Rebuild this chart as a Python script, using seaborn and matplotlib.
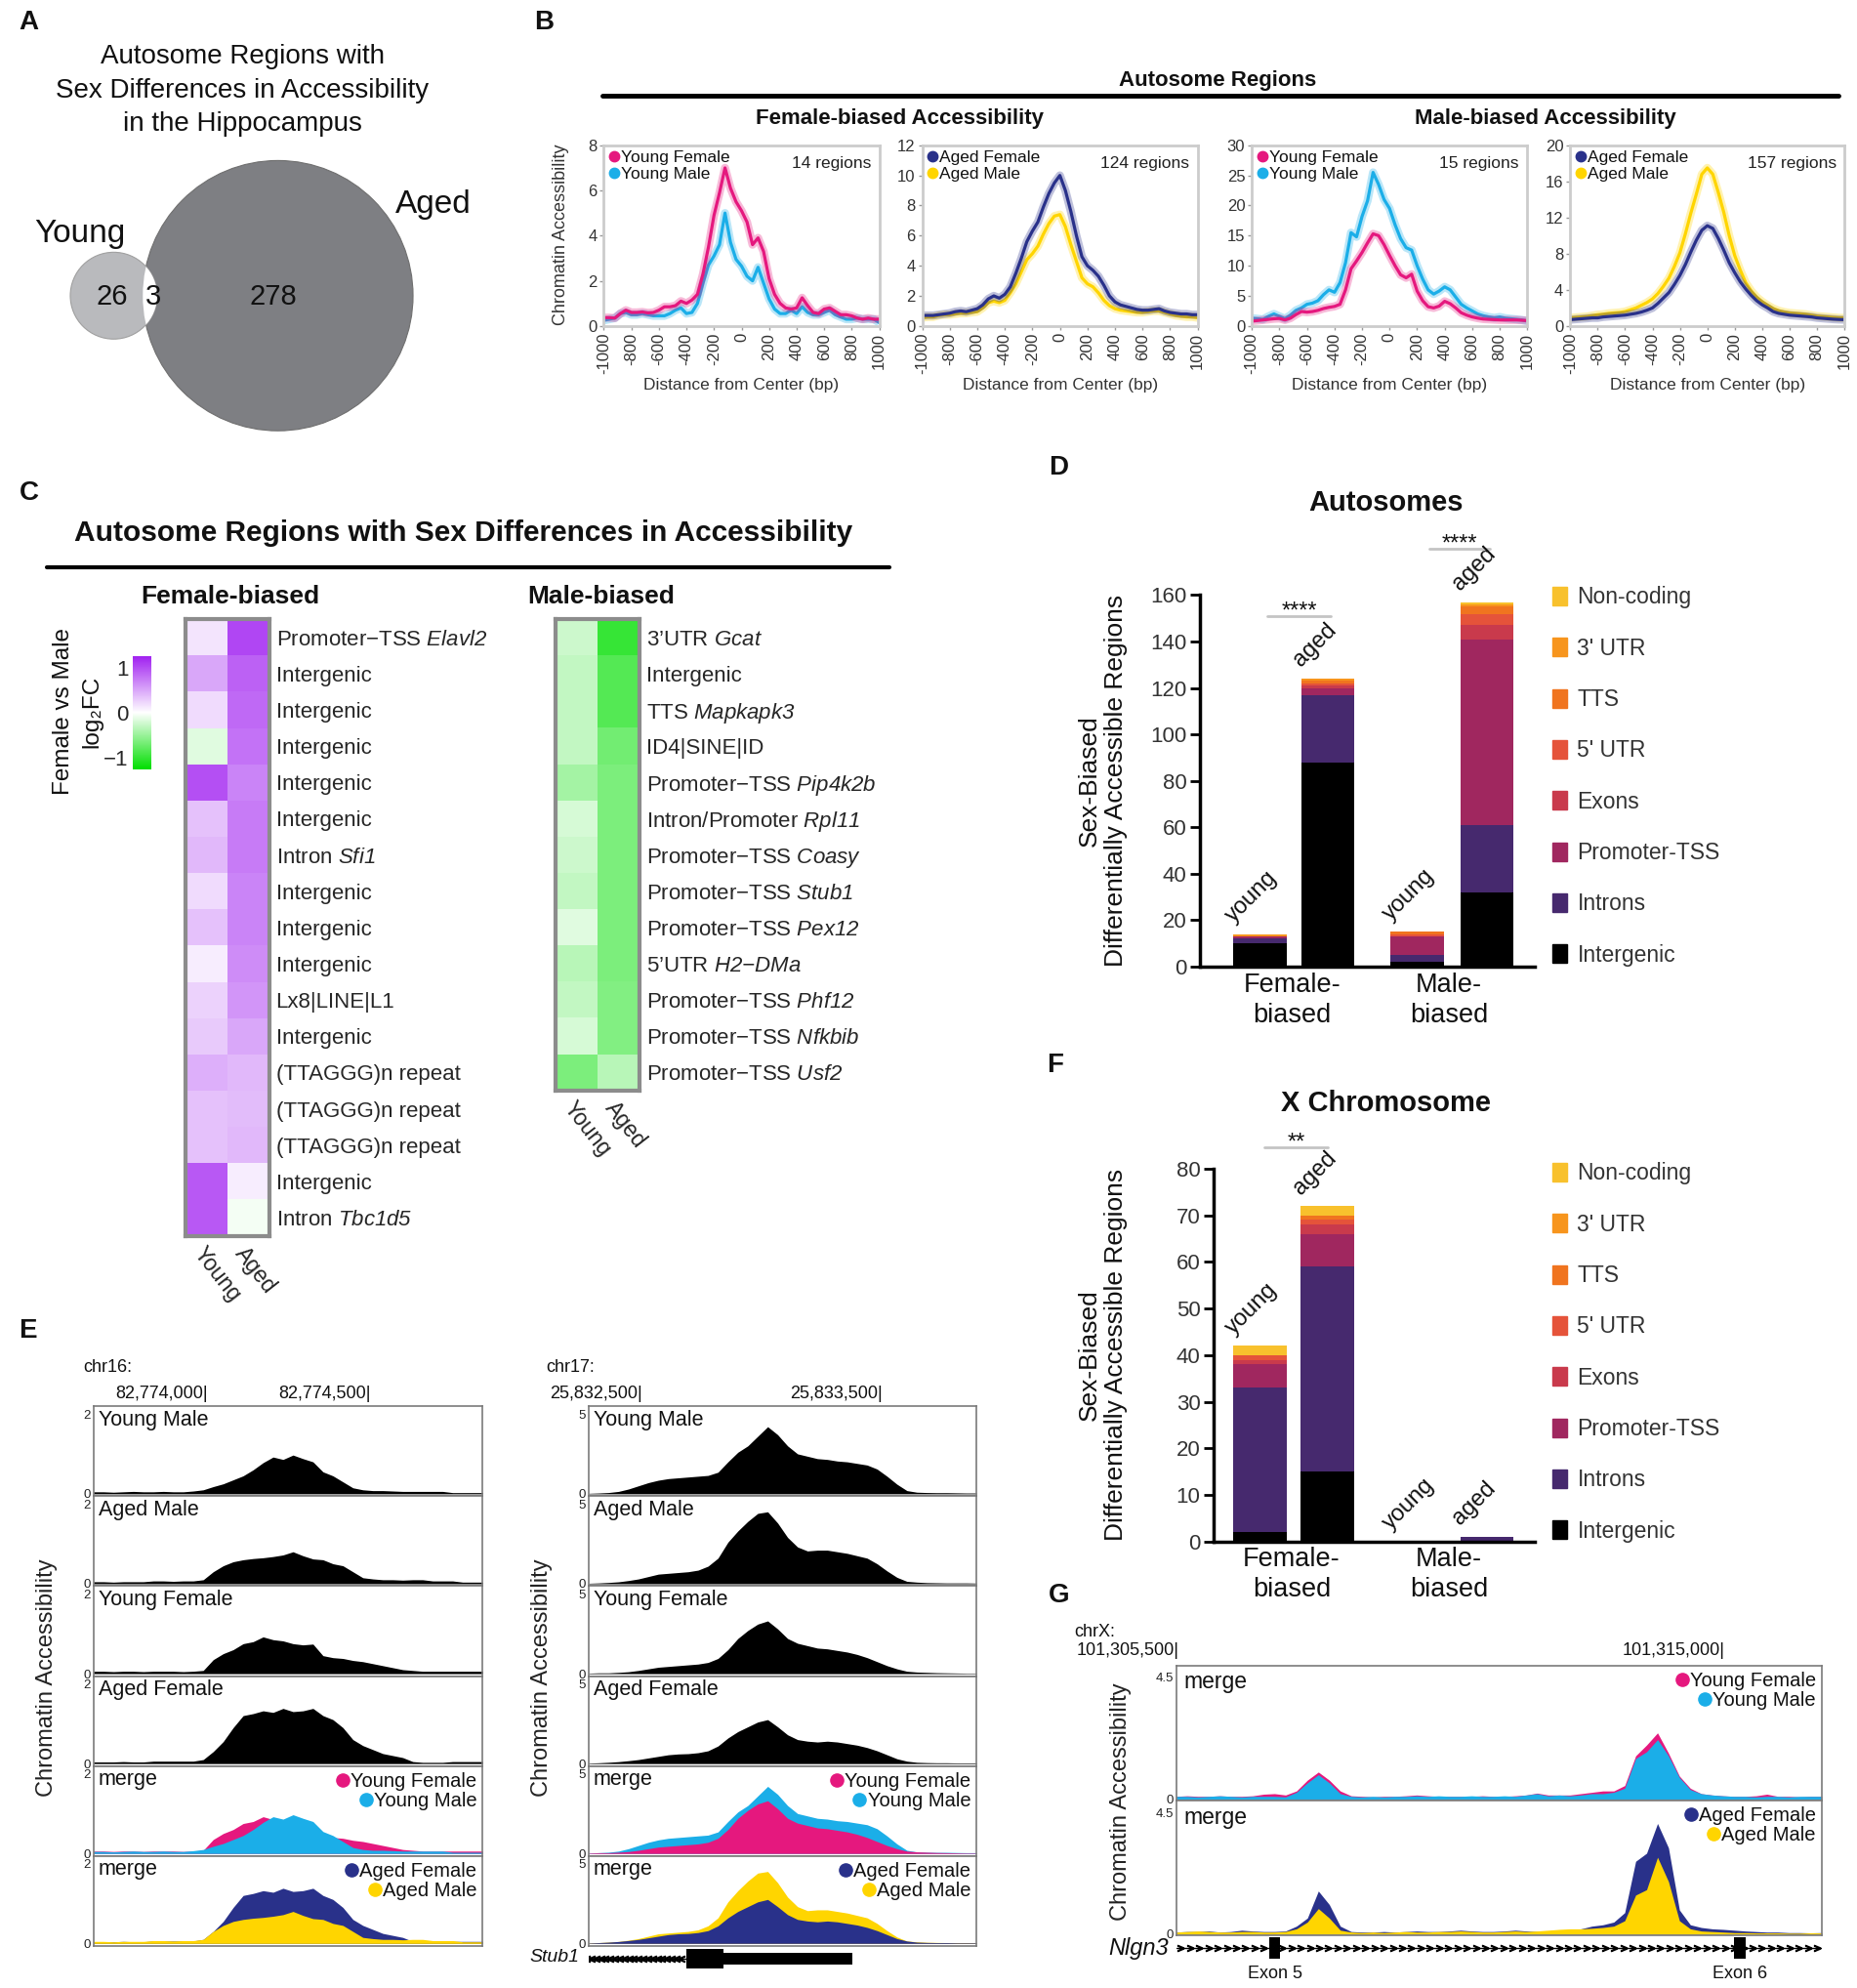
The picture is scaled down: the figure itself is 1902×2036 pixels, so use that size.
import numpy as np
import matplotlib
matplotlib.use("Agg")
import matplotlib.pyplot as plt
import matplotlib.transforms as mtransforms
from matplotlib.colors import LinearSegmentedColormap
from matplotlib.patches import Circle, Rectangle, Patch
from matplotlib.lines import Line2D
import seaborn as sns

sns.set_theme(style="white")
plt.rcParams["font.family"] = ["Liberation Sans", "DejaVu Sans"]
plt.rcParams["mathtext.fontset"] = "custom"
plt.rcParams["mathtext.rm"] = "Liberation Sans:italic"
plt.rcParams["mathtext.it"] = "Liberation Sans:italic"
plt.rcParams["mathtext.bf"] = "Liberation Sans:bold"
plt.rcParams["axes.unicode_minus"] = False
plt.rcParams["text.color"] = "#111111"

# ======================= DATA =======================
# Panel A (Venn counts)
VENN_YOUNG_ONLY = 26
VENN_SHARED = 3
VENN_AGED_ONLY = 278

# Panel B (aggregate accessibility profiles, every 40 bp from -1000 to 1000)
BP = np.arange(-1000, 1001, 40)
B_REGIONS = [14, 124, 15, 157]
B_XTICKS = [-1000, -800, -600, -400, -200, 0, 200, 400, 600, 800, 1000]
B1_YOUNG_FEMALE = [0.37, 0.37, 0.35, 0.55, 0.70, 0.60, 0.60, 0.62, 0.58, 0.60,
                   0.70, 0.85, 0.85, 0.90, 1.10, 1.00, 1.15, 1.40, 2.30, 3.50,
                   4.90, 5.90, 7.00, 6.10, 5.50, 5.10, 4.60, 3.60, 3.90, 3.30,
                   2.10, 1.40, 1.00, 0.80, 0.75, 0.80, 1.25, 0.90, 0.60, 0.55,
                   0.75, 0.80, 0.65, 0.50, 0.50, 0.45, 0.35, 0.30, 0.35, 0.30, 0.30]
B1_YOUNG_MALE = [0.25, 0.30, 0.35, 0.55, 0.60, 0.50, 0.50, 0.55, 0.50, 0.45,
                 0.45, 0.45, 0.55, 0.70, 0.80, 0.55, 0.60, 1.00, 1.90, 2.70,
                 3.10, 3.60, 5.00, 3.70, 2.95, 2.65, 2.20, 2.00, 2.60, 1.90,
                 1.20, 0.75, 0.55, 0.55, 0.70, 0.55, 0.85, 0.60, 0.50, 0.50,
                 0.60, 0.70, 0.50, 0.40, 0.30, 0.30, 0.35, 0.30, 0.30, 0.30, 0.15]
B2_AGED_FEMALE = [0.70, 0.70, 0.70, 0.75, 0.80, 0.85, 0.95, 1.00, 0.95, 1.05,
                  1.15, 1.40, 1.80, 2.00, 1.85, 2.10, 2.60, 3.50, 4.50, 5.60,
                  6.30, 6.90, 7.90, 8.80, 9.50, 10.0, 9.00, 7.60, 6.00, 4.60,
                  4.00, 3.70, 3.30, 2.70, 2.00, 1.60, 1.40, 1.30, 1.20, 1.10,
                  1.05, 1.05, 1.10, 1.15, 1.00, 0.90, 0.85, 0.80, 0.80, 0.75, 0.75]
B2_AGED_MALE = [0.55, 0.60, 0.60, 0.70, 0.75, 0.75, 0.80, 0.85, 0.85, 0.90,
                0.95, 1.20, 1.55, 1.65, 1.55, 1.70, 2.20, 2.80, 3.60, 4.40,
                4.80, 5.30, 6.10, 6.80, 7.30, 7.40, 6.60, 5.40, 4.30, 3.20,
                2.80, 2.60, 2.20, 1.70, 1.35, 1.15, 1.05, 1.00, 0.95, 0.90,
                0.90, 0.95, 1.00, 1.00, 0.90, 0.80, 0.70, 0.65, 0.60, 0.60, 0.55]
B3_YOUNG_FEMALE = [0.80, 0.90, 1.00, 1.10, 1.20, 1.25, 1.00, 1.30, 1.90, 2.40,
                   2.30, 2.40, 2.60, 2.90, 3.10, 3.25, 3.60, 6.00, 9.50, 10.8,
                   12.2, 13.8, 15.3, 15.0, 13.5, 11.7, 10.0, 8.50, 8.00, 8.60,
                   5.80, 4.20, 3.20, 3.00, 3.30, 4.10, 3.70, 3.00, 2.20, 1.80,
                   1.50, 1.30, 1.15, 1.10, 1.05, 1.00, 1.00, 1.00, 1.00, 0.95, 0.90]
B3_YOUNG_MALE = [1.30, 1.20, 1.10, 1.60, 2.00, 1.60, 1.20, 1.80, 2.60, 3.00,
                 3.60, 3.80, 4.20, 5.20, 6.00, 5.60, 7.20, 10.5, 15.5, 14.8,
                 18.2, 20.8, 25.5, 23.5, 21.0, 19.5, 16.8, 14.5, 13.0, 12.6,
                 10.0, 7.80, 6.00, 5.30, 5.80, 6.50, 6.00, 4.80, 3.60, 3.00,
                 2.50, 2.00, 1.70, 1.50, 1.35, 1.50, 1.30, 1.20, 1.10, 1.00, 0.80]
B4_AGED_FEMALE = [0.70, 0.75, 0.80, 0.85, 0.90, 0.90, 1.00, 1.05, 1.10, 1.15,
                  1.20, 1.30, 1.40, 1.55, 1.75, 2.00, 2.50, 3.10, 3.70, 4.60,
                  5.60, 6.80, 8.20, 9.50, 10.6, 11.1, 10.8, 9.70, 8.40, 7.00,
                  5.90, 4.90, 4.10, 3.40, 2.80, 2.35, 2.00, 1.60, 1.40, 1.30,
                  1.20, 1.15, 1.10, 1.05, 1.00, 0.90, 0.85, 0.80, 0.75, 0.72, 0.70]
B4_AGED_MALE = [0.90, 0.95, 1.00, 1.05, 1.15, 1.25, 1.30, 1.40, 1.45, 1.50,
                1.60, 1.80, 2.00, 2.30, 2.60, 3.00, 3.60, 4.40, 5.30, 6.60,
                8.10, 10.2, 12.5, 14.6, 16.8, 17.5, 16.8, 14.8, 12.6, 10.0,
                7.80, 6.20, 4.80, 3.90, 3.20, 2.70, 2.30, 1.95, 1.70, 1.55,
                1.45, 1.40, 1.35, 1.30, 1.20, 1.10, 1.05, 1.00, 0.95, 0.90, 0.90]

# Panel C (log2FC female vs male)
FEMALE_LABELS = [r"Promoter−TSS $Elavl2$", "Intergenic", "Intergenic", "Intergenic",
                 "Intergenic", "Intergenic", r"Intron $Sfi1$", "Intergenic", "Intergenic",
                 "Intergenic", "Lx8|LINE|L1", "Intergenic", "(TTAGGG)n repeat",
                 "(TTAGGG)n repeat", "(TTAGGG)n repeat", "Intergenic", r"Intron $Tbc1d5$"]
FEMALE_YOUNG = [0.15, 0.50, 0.20, -0.15, 1.00, 0.35, 0.40, 0.20, 0.35, 0.10, 0.25, 0.30,
                0.45, 0.35, 0.35, 0.95, 0.95]
FEMALE_AGED = [1.05, 0.90, 0.85, 0.80, 0.70, 0.75, 0.75, 0.70, 0.70, 0.65, 0.60, 0.50,
               0.40, 0.38, 0.40, 0.10, -0.05]
MALE_LABELS = [r"3’UTR $Gcat$", "Intergenic", r"TTS $Mapkapk3$", "ID4|SINE|ID",
               r"Promoter−TSS $Pip4k2b$", r"Intron/Promoter $Rpl11$",
               r"Promoter−TSS $Coasy$", r"Promoter−TSS $Stub1$",
               r"Promoter−TSS $Pex12$", r"5’UTR $H2{-}DMa$",
               r"Promoter−TSS $Phf12$", r"Promoter−TSS $Nfkbib$",
               r"Promoter−TSS $Usf2$"]
MALE_YOUNG = [-0.25, -0.30, -0.30, -0.30, -0.45, -0.20, -0.25, -0.30, -0.15, -0.35,
              -0.30, -0.20, -0.65]
MALE_AGED = [-1.00, -0.85, -0.85, -0.70, -0.65, -0.65, -0.65, -0.65, -0.65, -0.65,
             -0.62, -0.62, -0.35]
HEAT_COLS = ["Young", "Aged"]

# Panels D / F (annotation counts; bars: female young, female aged, male young, male aged)
ANNOT_NAMES = ["Intergenic", "Introns", "Promoter-TSS", "Exons", "5' UTR", "TTS", "3' UTR", "Non-coding"]
AUTO_INTERGENIC = [10, 88, 2, 32]
AUTO_INTRONS = [2, 29, 3, 29]
AUTO_PROMOTER = [1, 3, 8, 80]
AUTO_EXONS = [0, 1, 0, 6]
AUTO_UTR5 = [0, 1, 1, 5]
AUTO_TTS = [0, 1, 1, 3]
AUTO_UTR3 = [1, 1, 0, 1]
AUTO_NONCODING = [0, 0, 0, 1]
X_INTERGENIC = [2, 15, 0, 0]
X_INTRONS = [31, 44, 0, 1]
X_PROMOTER = [5, 7, 0, 0]
X_EXONS = [1, 2, 0, 0]
X_UTR5 = [1, 1, 0, 0]
X_TTS = [0, 1, 0, 0]
X_UTR3 = [0, 0, 0, 0]
X_NONCODING = [2, 2, 0, 0]
BAR_AGE = ["young", "aged", "young", "aged"]

# Panel E (browser tracks)
E_LEFT_RANGE = (82773650, 82774842)
E_LEFT_TICKS = [82774000, 82774500]
E_RIGHT_RANGE = (25832277, 25833894)
E_RIGHT_TICKS = [25832500, 25833500]
EL_YOUNG_MALE = [0.05, 0.05, 0.04, 0.05, 0.06, 0.05, 0.05, 0.06, 0.05, 0.05, 0.07, 0.10, 0.18, 0.25,
                 0.35, 0.45, 0.60, 0.78, 0.92, 0.86, 0.97, 0.88, 0.80, 0.55, 0.45, 0.30, 0.15, 0.10,
                 0.08, 0.08, 0.07, 0.06, 0.06, 0.06, 0.06, 0.06, 0.03, 0.03, 0.03, 0.03]
EL_AGED_MALE = [0.05, 0.05, 0.04, 0.05, 0.05, 0.05, 0.07, 0.07, 0.06, 0.07, 0.07, 0.10, 0.30, 0.45,
                0.55, 0.60, 0.63, 0.65, 0.68, 0.72, 0.80, 0.70, 0.62, 0.60, 0.50, 0.45, 0.30, 0.15,
                0.12, 0.10, 0.10, 0.09, 0.10, 0.10, 0.07, 0.07, 0.07, 0.04, 0.04, 0.04]
EL_YOUNG_FEMALE = [0.06, 0.06, 0.05, 0.06, 0.06, 0.05, 0.06, 0.06, 0.06, 0.05, 0.06, 0.08, 0.35, 0.50,
                   0.60, 0.75, 0.80, 0.92, 0.85, 0.82, 0.75, 0.72, 0.74, 0.45, 0.40, 0.38, 0.33, 0.30,
                   0.25, 0.20, 0.15, 0.10, 0.08, 0.06, 0.06, 0.06, 0.06, 0.06, 0.06, 0.06]
EL_AGED_FEMALE = [0.04, 0.04, 0.04, 0.05, 0.04, 0.04, 0.06, 0.06, 0.06, 0.06, 0.06, 0.10, 0.30, 0.55,
                  0.90, 1.20, 1.25, 1.32, 1.28, 1.38, 1.30, 1.32, 1.38, 1.20, 1.10, 0.90, 0.60, 0.45,
                  0.35, 0.25, 0.20, 0.15, 0.05, 0.03, 0.03, 0.03, 0.05, 0.05, 0.05, 0.05]
ER_YOUNG_MALE = [0.03, 0.05, 0.08, 0.15, 0.30, 0.50, 0.70, 0.85, 0.95, 1.00, 1.05, 1.10, 1.15, 1.35,
                 2.00, 2.60, 3.00, 3.60, 4.20, 3.70, 3.00, 2.50, 2.35, 2.20, 2.15, 2.05, 2.00, 1.90,
                 1.80, 1.55, 1.10, 0.60, 0.20, 0.10, 0.08, 0.07, 0.07, 0.06, 0.05, 0.05]
ER_AGED_MALE = [0.03, 0.05, 0.08, 0.12, 0.20, 0.30, 0.45, 0.60, 0.65, 0.70, 0.75, 0.85, 1.10, 1.60,
                2.60, 3.30, 3.90, 4.40, 4.50, 3.80, 2.90, 2.30, 2.05, 2.10, 2.10, 2.00, 1.90, 1.75,
                1.60, 1.25, 0.80, 0.40, 0.15, 0.10, 0.07, 0.06, 0.05, 0.05, 0.05, 0.04]
ER_YOUNG_FEMALE = [0.03, 0.05, 0.05, 0.08, 0.12, 0.20, 0.30, 0.40, 0.45, 0.50, 0.55, 0.60, 0.70, 0.95,
                   1.50, 2.20, 2.70, 3.10, 3.30, 2.80, 2.20, 1.90, 1.75, 1.60, 1.55, 1.45, 1.35, 1.20,
                   1.00, 0.75, 0.50, 0.30, 0.15, 0.10, 0.08, 0.06, 0.05, 0.04, 0.03, 0.03]
ER_AGED_FEMALE = [0.03, 0.05, 0.08, 0.12, 0.18, 0.25, 0.35, 0.45, 0.55, 0.60, 0.62, 0.68, 0.80, 1.10,
                  1.60, 2.00, 2.30, 2.60, 2.75, 2.30, 1.80, 1.50, 1.40, 1.35, 1.40, 1.35, 1.25, 1.15,
                  1.00, 0.80, 0.55, 0.30, 0.15, 0.08, 0.06, 0.05, 0.05, 0.04, 0.04, 0.04]
STUB1_LINE = (25832250, 25832683)
STUB1_WIDE = (25832683, 25832841)
STUB1_NARROW = (25832841, 25833377)

# Panel G (chrX browser tracks)
G_RANGE = (101305445, 101316688)
G_TICKS = [101305500, 101315000]
G_EXONS = [101307162, 101315264]
G_EXON_NAMES = ["Exon 5", "Exon 6"]
G_YOUNG_MALE = [0.10, 0.10, 0.08, 0.10, 0.12, 0.10, 0.08, 0.10, 0.10, 0.10, 0.08,
                0.25, 0.60, 0.90, 0.60, 0.20, 0.10,
                0.08, 0.10, 0.08, 0.10, 0.10, 0.12, 0.10, 0.12, 0.10,
                0.10, 0.12, 0.10, 0.10, 0.12, 0.10, 0.15, 0.20, 0.12, 0.15,
                0.12, 0.15, 0.20, 0.20, 0.25, 0.40, 1.50, 1.75, 2.20, 1.60, 0.80, 0.35,
                0.20, 0.15, 0.12, 0.10, 0.10, 0.08, 0.10, 0.10, 0.08, 0.10, 0.10, 0.10]
G_YOUNG_FEMALE = [0.10, 0.12, 0.10, 0.10, 0.12, 0.10, 0.10, 0.12, 0.18, 0.20, 0.15,
                  0.30, 0.70, 1.00, 0.70, 0.30, 0.12,
                  0.10, 0.08, 0.10, 0.10, 0.12, 0.15, 0.12, 0.10, 0.10,
                  0.10, 0.10, 0.12, 0.10, 0.10, 0.12, 0.15, 0.22, 0.15, 0.15,
                  0.15, 0.20, 0.25, 0.30, 0.30, 0.50, 1.60, 2.00, 2.45, 1.70, 0.85, 0.40,
                  0.20, 0.15, 0.12, 0.10, 0.10, 0.12, 0.18, 0.10, 0.10, 0.08, 0.10, 0.10]
G_AGED_FEMALE = [0.08, 0.10, 0.10, 0.12, 0.08, 0.10, 0.15, 0.12, 0.10, 0.10, 0.12,
                 0.30, 0.60, 1.60, 1.10, 0.30, 0.10,
                 0.08, 0.08, 0.10, 0.08, 0.10, 0.12, 0.10, 0.10, 0.12,
                 0.15, 0.12, 0.10, 0.10, 0.12, 0.15, 0.12, 0.10, 0.12, 0.15,
                 0.15, 0.20, 0.30, 0.35, 0.45, 0.80, 2.70, 3.00, 4.10, 3.20, 0.90, 0.35,
                 0.25, 0.20, 0.18, 0.15, 0.12, 0.10, 0.08, 0.08, 0.06, 0.06, 0.05, 0.06]
G_AGED_MALE = [0.08, 0.10, 0.12, 0.10, 0.08, 0.08, 0.10, 0.10, 0.08, 0.08, 0.10,
               0.20, 0.45, 0.95, 0.60, 0.15, 0.08,
               0.06, 0.08, 0.06, 0.08, 0.10, 0.08, 0.08, 0.10, 0.10,
               0.12, 0.10, 0.08, 0.08, 0.10, 0.12, 0.10, 0.12, 0.15, 0.18,
               0.20, 0.20, 0.22, 0.25, 0.30, 0.50, 1.45, 1.65, 2.85, 1.95, 0.50, 0.20,
               0.12, 0.10, 0.08, 0.06, 0.06, 0.05, 0.05, 0.05, 0.04, 0.04, 0.05, 0.05]

# ======================= STYLE =======================
PINK, SKY, NAVY, YELLOW = "#E5187E", "#1BAEE8", "#29318A", "#FFD500"
ANNOT_COLORS = ["#000000", "#46296E", "#A0275F", "#C93A4C", "#E5533A", "#F0741F", "#F7951D", "#F8C12D"]

W, H = 1470.0, 1573.4
fig = plt.figure(figsize=(19.02, 20.36), dpi=100)


def axbox(x0, y0, x1, y1):
    return fig.add_axes([x0 / W, 1 - y1 / H, (x1 - x0) / W, (y1 - y0) / H])


def ftext(x, y, s, **kw):
    kw.setdefault("ha", "center")
    kw.setdefault("va", "center")
    return fig.text(x / W, 1 - y / H, s, **kw)


def fline(x0, x1, y, **kw):
    fig.add_artist(Line2D([x0 / W, x1 / W], [1 - y / H, 1 - y / H], transform=fig.transFigure, **kw))


# panel letters
for letter, (lx, ly) in {"A": (15, 18), "B": (423, 18), "C": (15, 390), "D": (830, 370),
                         "E": (15, 1053), "F": (829, 843), "G": (830, 1263)}.items():
    ftext(lx, ly, letter, fontsize=20, fontweight="bold", ha="left")

# ======================= PANEL A =======================
axA = axbox(0, 0, 420, 370)
axA.set_xlim(0, 420)
axA.set_ylim(370, 0)
axA.axis("off")
k_r = 6.38
r_young = k_r * np.sqrt(VENN_YOUNG_ONLY + VENN_SHARED)
r_aged = k_r * np.sqrt(VENN_AGED_ONLY + VENN_SHARED)
c_aged = Circle((220, 234), r_aged, fc="#7e7f83", ec="#6f6f6f", lw=0.8)
c_young = Circle((90, 234), r_young, fc="#b9babd", ec="#a0a0a0", lw=0.8)
axA.add_patch(c_aged)
axA.add_patch(c_young)
c_both = Circle((90, 234), r_young, fc="white", ec="none")
axA.add_patch(c_both)
c_both.set_clip_path(c_aged)
for i, line in enumerate(["Autosome Regions with", "Sex Differences in Accessibility", "in the Hippocampus"]):
    ftext(192, 45 + 26.5 * i, line, fontsize=20)
ftext(63, 185, "Young", fontsize=24)
ftext(343, 162, "Aged", fontsize=24)
ftext(89, 235, str(VENN_YOUNG_ONLY), fontsize=21)
ftext(121, 235, str(VENN_SHARED), fontsize=21)
ftext(216, 235, str(VENN_AGED_ONLY), fontsize=21)

# ======================= PANEL B =======================
ftext(964, 64, "Autosome Regions", fontsize=16, fontweight="bold")
fline(477, 1455, 76, color="black", lw=3.5)
ftext(712, 94, "Female-biased Accessibility", fontsize=16, fontweight="bold")
ftext(1223, 94, "Male-biased Accessibility", fontsize=16, fontweight="bold")

B_PANELS = [
    ((478, 115, 696, 258), [("Young Male", B1_YOUNG_MALE, SKY), ("Young Female", B1_YOUNG_FEMALE, PINK)], 8, [0, 2, 4, 6, 8]),
    ((730, 115, 948, 258), [("Aged Male", B2_AGED_MALE, YELLOW), ("Aged Female", B2_AGED_FEMALE, NAVY)], 12, [0, 2, 4, 6, 8, 10, 12]),
    ((991, 115, 1209, 258), [("Young Male", B3_YOUNG_MALE, SKY), ("Young Female", B3_YOUNG_FEMALE, PINK)], 30, [0, 5, 10, 15, 20, 25, 30]),
    ((1243, 115, 1460, 258), [("Aged Male", B4_AGED_MALE, YELLOW), ("Aged Female", B4_AGED_FEMALE, NAVY)], 20, [0, 4, 8, 12, 16, 20]),
]
for (box, series, ymax, yt), nreg in zip(B_PANELS, B_REGIONS):
    ax = axbox(*box)
    for name, vals, col in series:
        ax.plot(BP, vals, color=col, lw=6, alpha=0.3, solid_capstyle="butt")
        sns.lineplot(x=BP, y=vals, color=col, lw=2.3, ax=ax)
    ax.set_xlim(-1000, 1000)
    ax.set_ylim(0, ymax)
    ax.set_yticks(yt)
    ax.set_xticks(B_XTICKS)
    ax.set_xticklabels([str(v) for v in B_XTICKS], rotation=90)
    ax.tick_params(axis="both", length=3, width=1, color="#9a9a9a", labelsize=12,
                   labelcolor="#333333", pad=2, bottom=True, left=True)
    for s in ax.spines.values():
        s.set_color("#cccccc")
        s.set_linewidth(2)
    ax.set_ylabel("")
    ax.set_xlabel("Distance from Center (bp)", fontsize=12.5, color="#333333", labelpad=3)
    handles = [Line2D([], [], ls="", marker="o", ms=7.5, color=series[1][2]),
               Line2D([], [], ls="", marker="o", ms=7.5, color=series[0][2])]
    ax.legend(handles, [series[1][0], series[0][0]], loc="upper left", frameon=False,
              fontsize=12.5, handlelength=0.6, handletextpad=0.12, labelspacing=0.1,
              borderaxespad=0.2, borderpad=0.1)
    ax.text(0.97, 0.94, f"{nreg} regions", transform=ax.transAxes, ha="right", va="top",
            fontsize=12.5, color="#222222")
ftext(444, 186, "Chromatin Accessibility", rotation=90, fontsize=13, color="#333333")

# ======================= PANEL C =======================
ftext(367, 422, "Autosome Regions with Sex Differences in Accessibility", fontsize=21.5, fontweight="bold")
fline(37, 704, 449, color="black", lw=3)
ftext(182, 472, "Female-biased", fontsize=19, fontweight="bold")
ftext(476, 472, "Male-biased", fontsize=19, fontweight="bold")

cmap = LinearSegmentedColormap.from_list("gwp", ["#00DE00", "#FFFFFF", "#A020F0"])
VLIM = 1.27
axC1 = axbox(147, 490, 213, 978)
axCb = axbox(105, 519, 120, 609)
sns.heatmap(np.column_stack([FEMALE_YOUNG, FEMALE_AGED]), cmap=cmap, vmin=-VLIM, vmax=VLIM,
            ax=axC1, cbar=True, cbar_ax=axCb, cbar_kws={"ticks": [-1, 0, 1]},
            xticklabels=HEAT_COLS, yticklabels=FEMALE_LABELS)
axC2 = axbox(440, 490, 506, 863)
sns.heatmap(np.column_stack([MALE_YOUNG, MALE_AGED]), cmap=cmap, vmin=-VLIM, vmax=VLIM,
            ax=axC2, cbar=False, xticklabels=HEAT_COLS, yticklabels=MALE_LABELS)
for ax in (axC1, axC2):
    ax.yaxis.tick_right()
    ax.tick_params(axis="y", length=0, labelsize=16, pad=5, labelrotation=0)
    ax.tick_params(axis="x", length=0, pad=5)
    ax.set_xticklabels(HEAT_COLS, rotation=-52, ha="left", rotation_mode="anchor", fontsize=16.5)
    for s in ax.spines.values():
        s.set_visible(True)
        s.set_color("#8c8c8c")
        s.set_linewidth(3)
cb = axC1.collections[0].colorbar
cb.outline.set_visible(False)
cb.ax.yaxis.set_ticks_position("left")
cb.ax.set_yticklabels(["−1", "0", "1"])
cb.ax.tick_params(length=0, labelsize=16, pad=3)
ftext(50, 563, "Female vs Male", rotation=90, fontsize=17.5)
ftext(73, 563, "log₂FC", rotation=90, fontsize=17.5)

# ======================= PANELS D / F =======================
BAR_POS = [0.0, 1.0, 2.33, 3.36]


def bar_panel(box, layers, ymax, ystep, xleft, sigs, title, title_y, legend_top):
    ax = axbox(*box)
    cums = np.cumsum(np.array(layers, dtype=float), axis=0)
    for cum_vals, col in reversed(list(zip(cums, ANNOT_COLORS))):
        sns.barplot(x=BAR_POS, y=cum_vals, color=col, width=0.79, native_scale=True,
                    saturation=1, linewidth=0, errorbar=None, ax=ax)
    totals = cums[-1]
    ax.set_xlim(xleft, 4.07)
    ax.set_ylim(0, ymax)
    ax.set_yticks(np.arange(0, ymax + 1, ystep))
    ax.set_xticks([])
    ax.set_xlabel("")
    ax.set_ylabel("")
    for side in ("top", "right"):
        ax.spines[side].set_visible(False)
    for side in ("left", "bottom"):
        ax.spines[side].set_color("black")
        ax.spines[side].set_linewidth(2.5)
    ax.tick_params(axis="y", left=True, length=7, width=2, color="black", labelsize=16,
                   labelcolor="#333333", pad=3, direction="out")
    for p, t, lab in zip(BAR_POS, totals, BAR_AGE):
        ax.text(p - 0.34, t + 0.02 * ymax, lab, rotation=45, rotation_mode="anchor",
                ha="left", va="bottom", fontsize=17, clip_on=False)
    for xa, xb, yv, stars in sigs:
        ax.plot([xa, xb], [yv, yv], color="#c4c4c4", lw=2, clip_on=False)
        ax.text((xa + xb) / 2, yv - 0.004 * ymax, stars, ha="center", va="baseline",
                fontsize=17, clip_on=False)
    for xc, lab in [(0.47, "Female-\nbiased"), (2.8, "Male-\nbiased")]:
        ax.text(xc, -0.015, lab, transform=ax.get_xaxis_transform(), ha="center", va="top",
                fontsize=19.5, linespacing=1.25)
    ftext(1097, title_y, title, fontsize=21, fontweight="bold")
    ftext(873, (box[1] + box[3]) / 2, "Sex-Biased\nDifferentially Accessible Regions",
          rotation=90, fontsize=19, linespacing=1.15)
    handles = [Patch(color=c) for c in reversed(ANNOT_COLORS)]
    fig.legend(handles, list(reversed(ANNOT_NAMES)), loc="upper left",
               bbox_to_anchor=(1229 / W, 1 - legend_top / H), frameon=False, fontsize=16.5,
               handlelength=0.65, handleheight=0.9, handletextpad=0.45, labelspacing=1.28,
               borderaxespad=0, borderpad=0, labelcolor="#333333")
    return ax


bar_panel((950, 471, 1215, 765),
          [AUTO_INTERGENIC, AUTO_INTRONS, AUTO_PROMOTER, AUTO_EXONS, AUTO_UTR5, AUTO_TTS,
           AUTO_UTR3, AUTO_NONCODING],
          160, 20, -0.89, [(0.1, 1.05, 151, "****"), (2.5, 3.4, 180, "****")],
          "Autosomes", 398, 464)
bar_panel((961, 925, 1215, 1220),
          [X_INTERGENIC, X_INTRONS, X_PROMOTER, X_EXONS, X_UTR5, X_TTS, X_UTR3, X_NONCODING],
          80, 10, -0.68, [(0.07, 1.0, 84.5, "**")],
          "X Chromosome", 873, 920)

# ======================= PANELS E / G =======================


def merge_legend(ax, labels, colors):
    handles = [Line2D([], [], ls="", marker="o", ms=9.5, color=c) for c in colors]
    leg = ax.legend(handles, labels, loc="upper right", frameon=False, fontsize=14.5,
                    handlelength=0.6, handletextpad=0.1, labelspacing=0.05,
                    borderaxespad=0.15, borderpad=0.15)
    for col in leg._legend_handle_box.get_children():
        col.align = "right"


def track_block(x0, x1, top, bottom, xrange_, ymax, tick_txt, tracks, lo=-0.03, hi=1.095,
                title_size=15.5):
    n = len(tracks)
    h = (bottom - top) / n
    axs = []
    for k, (name, layers, legend) in enumerate(tracks):
        ax = axbox(x0, top + k * h, x1, top + (k + 1) * h)
        xs = np.linspace(xrange_[0], xrange_[1], len(layers[0][0]))
        for vals, col in layers:
            ax.fill_between(xs, 0, vals, color=col, lw=0)
        ax.set_xlim(*xrange_)
        ax.set_ylim(lo * ymax, hi * ymax)
        ax.set_xticks([])
        ax.set_yticks([0, ymax])
        ax.set_yticklabels(["0", tick_txt])
        ax.tick_params(axis="y", length=0, labelsize=9.5, pad=2, labelcolor="#222222")
        for s in ax.spines.values():
            s.set_color("#7a7a7a")
            s.set_linewidth(1.2)
        ax.text(0.012, 0.96, name, transform=ax.transAxes, ha="left", va="top", fontsize=title_size)
        if legend is not None:
            merge_legend(ax, *legend)
        axs.append(ax)
    return axs


YOUNG_LEG = (["Young Female", "Young Male"], [PINK, SKY])
AGED_LEG = (["Aged Female", "Aged Male"], [NAVY, YELLOW])

eL = track_block(74, 382, 1113, 1540, E_LEFT_RANGE, 2, "2", [
    ("Young Male", [(EL_YOUNG_MALE, "black")], None),
    ("Aged Male", [(EL_AGED_MALE, "black")], None),
    ("Young Female", [(EL_YOUNG_FEMALE, "black")], None),
    ("Aged Female", [(EL_AGED_FEMALE, "black")], None),
    ("merge", [(EL_YOUNG_FEMALE, PINK), (EL_YOUNG_MALE, SKY)], YOUNG_LEG),
    ("merge", [(EL_AGED_FEMALE, NAVY), (EL_AGED_MALE, YELLOW)], AGED_LEG),
])
eR = track_block(466, 773, 1113, 1540, E_RIGHT_RANGE, 5, "5", [
    ("Young Male", [(ER_YOUNG_MALE, "black")], None),
    ("Aged Male", [(ER_AGED_MALE, "black")], None),
    ("Young Female", [(ER_YOUNG_FEMALE, "black")], None),
    ("Aged Female", [(ER_AGED_FEMALE, "black")], None),
    ("merge", [(ER_YOUNG_MALE, SKY), (ER_YOUNG_FEMALE, PINK)], YOUNG_LEG),
    ("merge", [(ER_AGED_MALE, YELLOW), (ER_AGED_FEMALE, NAVY)], AGED_LEG),
])
for axs, ticks, chrom, cx in [(eL, E_LEFT_TICKS, "chr16:", 66), (eR, E_RIGHT_TICKS, "chr17:", 432)]:
    tr = mtransforms.blended_transform_factory(axs[0].transData, axs[0].transAxes)
    for t in ticks:
        axs[0].text(t, 1.14, f"{t:,}|", transform=tr, ha="right", va="center", fontsize=13)
    ftext(cx, 1082, chrom, ha="left", fontsize=13)
ftext(37, 1328, "Chromatin Accessibility", rotation=90, fontsize=17, color="#222222")
ftext(429, 1328, "Chromatin Accessibility", rotation=90, fontsize=17, color="#222222")

# Stub1 gene model
axS = axbox(466, 1541, 773, 1559)
axS.set_xlim(*E_RIGHT_RANGE)
axS.set_ylim(-1, 1)
axS.axis("off")
axS.plot(STUB1_LINE, [0, 0], color="black", lw=1)
axS.plot(np.linspace(STUB1_LINE[0], STUB1_LINE[1] - 20, 22), np.zeros(22), ls="",
         marker="$<$", ms=4.5, color="black")
axS.add_patch(Rectangle((STUB1_WIDE[0], -0.85), STUB1_WIDE[1] - STUB1_WIDE[0], 1.7, color="black", lw=0))
axS.add_patch(Rectangle((STUB1_NARROW[0], -0.5), STUB1_NARROW[1] - STUB1_NARROW[0], 1.0, color="black", lw=0))
ftext(459, 1549, "Stub1", ha="right", fontsize=14, style="italic")

# Panel G
gT = track_block(931, 1442, 1318, 1532, G_RANGE, 4.5, "4.5", [
    ("merge", [(G_YOUNG_FEMALE, PINK), (G_YOUNG_MALE, SKY)], YOUNG_LEG),
    ("merge", [(G_AGED_FEMALE, NAVY), (G_AGED_MALE, YELLOW)], AGED_LEG),
], lo=-0.012, hi=1.1, title_size=16.5)
tr = mtransforms.blended_transform_factory(gT[0].transData, gT[0].transAxes)
for t in G_TICKS:
    gT[0].text(t, 1.11, f"{t:,}|", transform=tr, ha="right", va="center", fontsize=13)
ftext(850, 1292, "chrX:", ha="left", fontsize=13)
ftext(887, 1426, "Chromatin Accessibility", rotation=90, fontsize=17, color="#222222")

axG = axbox(931, 1533, 1442, 1551)
axG.set_xlim(*G_RANGE)
axG.set_ylim(-1, 1)
axG.axis("off")
axG.plot(G_RANGE, [0, 0], color="black", lw=1)
axG.plot(np.linspace(G_RANGE[0] + 80, G_RANGE[1] - 80, 70), np.zeros(70), ls="",
         marker="$>$", ms=4.5, color="black")
for ex, nm in zip(G_EXONS, G_EXON_NAMES):
    axG.add_patch(Rectangle((ex - 95, -0.95), 190, 1.9, color="black", lw=0))
    axG.text(ex, -1.5, nm, ha="center", va="top", fontsize=13)
ftext(925, 1542, "Nlgn3", ha="right", fontsize=17, style="italic")

fig.savefig("out.png", dpi=100)
